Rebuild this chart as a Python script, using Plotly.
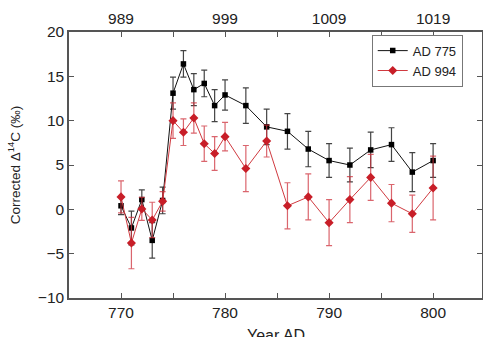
import plotly.graph_objects as go

# AD 775 event (bottom axis years)
years_775 = [770, 771, 772, 773, 774, 775, 776, 777, 778, 779, 780, 782, 784, 786, 788, 790, 792, 794, 796, 798, 800]
ad775 = [0.4, -2.1, 1.1, -3.5, 1.0, 13.1, 16.4, 13.5, 14.2, 11.7, 12.9, 11.7, 9.3, 8.8, 6.8, 5.5, 5.0, 6.7, 7.3, 4.2, 5.5]
ad775_err = [1.0, 1.9, 1.1, 2.0, 1.5, 1.8, 1.5, 1.8, 1.5, 1.8, 1.7, 2.0, 2.0, 2.0, 2.0, 1.9, 1.9, 2.0, 1.9, 2.2, 1.9]

# AD 994 event (top axis years)
years_994 = [989, 990, 991, 992, 993, 994, 995, 996, 997, 998, 999, 1001, 1003, 1005, 1007, 1009, 1011, 1013, 1015, 1017, 1019]
ad994 = [1.4, -3.8, 0.05, -1.2, 0.9, 10.0, 8.7, 10.3, 7.4, 6.3, 8.2, 4.6, 7.7, 0.4, 1.4, -1.5, 1.1, 3.6, 0.7, -0.5, 2.4]
ad994_err = [1.8, 2.9, 1.3, 2.0, 1.1, 2.0, 1.5, 1.7, 2.0, 1.9, 1.6, 2.6, 1.8, 2.6, 2.6, 2.6, 2.6, 2.6, 2.1, 2.1, 3.6]

bottom_ticks = [770, 780, 790, 800]
top_ticks = [989, 999, 1009, 1019]
y_ticks = [-10, -5, 0, 5, 10, 15, 20]

FONT = "Liberation Sans, Arial, sans-serif"
AX = "#555555"

fig = go.Figure()
fig.add_trace(go.Scatter(
    x=years_775, y=ad775, name="AD 775", mode="lines+markers",
    line=dict(color="#111111", width=1),
    marker=dict(symbol="square", size=5.5, color="#000000"),
    error_y=dict(type="data", array=ad775_err, color="#444444", thickness=1.2, width=3),
))
fig.add_trace(go.Scatter(
    x=years_994, y=ad994, name="AD 994", mode="lines+markers", xaxis="x2",
    line=dict(color="#d03a40", width=1),
    marker=dict(symbol="diamond", size=7, color="#c81e28"),
    error_y=dict(type="data", array=ad994_err, color="rgba(205,50,60,0.75)", thickness=1.2, width=3),
))

common = dict(showline=True, linecolor=AX, linewidth=1.5, ticks="inside", ticklen=5,
              tickcolor=AX, tickwidth=1.2, showgrid=False, zeroline=False, automargin=False,
              tickfont=dict(size=15.5, color="#222222", family=FONT))

fig.update_layout(
    width=483, height=337,
    margin=dict(l=69, r=1, t=32, b=39),
    paper_bgcolor="white", plot_bgcolor="white",
    font=dict(family=FONT, size=14, color="#222222"),
    showlegend=True,
    legend=dict(x=0.733, y=0.99, xanchor="left", yanchor="top",
                bordercolor="#777777", borderwidth=1, bgcolor="white",
                font=dict(size=13, family=FONT), itemwidth=30,
                entrywidth=98, entrywidthmode="pixels"),
    xaxis=dict(range=[765, 804.7], tickvals=bottom_ticks, mirror=False,
               minor=dict(dtick=5, tick0=765, ticks="inside", ticklen=5, tickcolor=AX, tickwidth=1.2),
               **common),
    xaxis2=dict(range=[984, 1023.7], overlaying="x", side="top", anchor="y",
                tickvals=top_ticks,
                minor=dict(dtick=5, tick0=984, ticks="inside", ticklen=5, tickcolor=AX, tickwidth=1.2),
                **common),
    yaxis=dict(range=[-10, 20], tickvals=y_ticks, mirror="ticks",
               ticktext=["\u221210", "\u22125", "0", "5", "10", "15", "20"],
               title=dict(text="Corrected \u0394<sup>14</sup>C (\u2030)", font=dict(size=13.5, family=FONT), standoff=14),
               **common),
)
fig.add_annotation(text="Year AD", xref="paper", yref="paper", x=0.5, y=-0.1,
                   xanchor="center", yanchor="top", showarrow=False,
                   font=dict(size=16, family=FONT, color="#222222"))

fig.write_html("out.html", config={"displayModeBar": False},
               post_script="document.body.style.margin='0';document.body.style.overflow='hidden';")
